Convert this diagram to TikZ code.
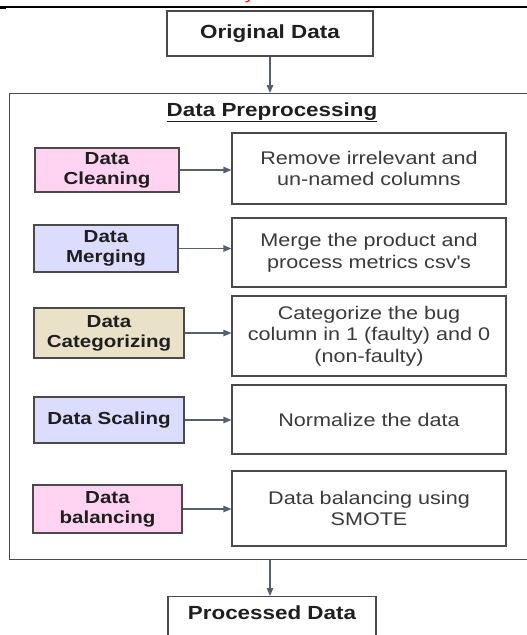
\documentclass[tikz,border=0pt]{standalone}
\usepackage{fontspec}
\setmainfont{Liberation Sans}[FakeStretch=1.18]
\usetikzlibrary{arrows.meta}
\definecolor{edge}{HTML}{4A4A4A}
\definecolor{wire}{HTML}{55606E}
\definecolor{pinkfill}{HTML}{FFD3F1}
\definecolor{lilacfill}{HTML}{DCDCFF}
\definecolor{tanfill}{HTML}{E9E2C9}
\definecolor{inktext}{HTML}{1E1E1E}
\definecolor{softtext}{HTML}{3A3A3A}
\tikzset{
  box/.style={draw=edge, line width=1.2pt, inner sep=0pt, align=center},
  endbox/.style={box, fill=white, text=inktext,
    font=\fontsize{19}{22}\selectfont\bfseries},
  stepbox/.style={box, text=inktext,
    font=\fontsize{17.4}{19.8}\selectfont\bfseries},
  notebox/.style={box, fill=white, text=softtext, minimum width=274pt,
    font=\fontsize{18.3}{21.7}\selectfont},
  flow/.style={draw=wire, line width=1.2pt,
    -{Triangle[length=8pt, width=6.5pt]}}
}
\begin{document}
\begin{tikzpicture}[x=1pt, y=-1pt]
\useasboundingbox (0,0) rectangle (527,635);

% running header rule of the page
\draw[black, line width=1.4pt] (0,7) -- (527,7);
\draw[black, line width=2.4pt] (0,8) -- (6,8);
\node[anchor=base, text=red, inner sep=0pt,
      font=\fontsize{16}{18}\selectfont\itshape] (hdr) at (251,-1) {y};

% input and output
\node[endbox, minimum width=206pt, minimum height=45pt] (orig) at (270,33.5) {Original Data};
\node[endbox, minimum width=208pt, minimum height=56pt, anchor=north] (proc) at (272,596) {};
\node[text=inktext, inner sep=0pt, font=\fontsize{19}{22}\selectfont\bfseries] (proclbl) at (272,613) {Processed Data};

% preprocessing frame
\node[box, minimum width=526pt, minimum height=466pt, anchor=north west] (prep) at (9,93) {};
\node[inner sep=0pt, anchor=base, text=inktext,
      font=\fontsize{19}{22}\selectfont\bfseries] (title) at (272,116)
      {\underline{Data Preprocessing}};

% processing steps
\node[stepbox, fill=pinkfill,  minimum width=144pt, minimum height=44pt] (s1) at (107,170)   {Data\\Cleaning};
\node[stepbox, fill=lilacfill, minimum width=144pt, minimum height=47pt] (s2) at (106,248.5) {Data\\Merging};
\node[stepbox, fill=tanfill,   minimum width=150pt, minimum height=50pt] (s3) at (109,333)   {Data\\Categorizing};
\node[stepbox, fill=lilacfill, minimum width=150pt, minimum height=46pt] (s4) at (109,420)   {Data Scaling};
\node[stepbox, fill=pinkfill,  minimum width=149pt, minimum height=48pt] (s5) at (107.5,509) {Data\\balancing};

% step descriptions
\node[notebox, minimum height=71pt] (d1) at (369,168.5) {Remove irrelevant and\\un-named columns};
\node[notebox, minimum height=69pt] (d2) at (369,252.5) {Merge the product and\\process metrics csv\textquotesingle s};
\node[notebox, minimum height=80pt] (d3) at (369,336)   {Categorize the bug\\column in 1 (faulty) and 0\\(non-faulty)};
\node[notebox, minimum height=69pt] (d4) at (369,419.5) {Normalize the data};
\node[notebox, minimum height=75pt] (d5) at (369,508.5) {Data balancing using\\SMOTE};

% connectors
\draw[flow] (orig.south) -- (orig.south |- prep.north);
\draw[flow] (prep.south -| orig.south) -- (orig.south |- proc.north);
\foreach \i in {1,...,5}
  \draw[flow] (s\i.east) -- (s\i.east -| d\i.west);
\end{tikzpicture}
\end{document}
